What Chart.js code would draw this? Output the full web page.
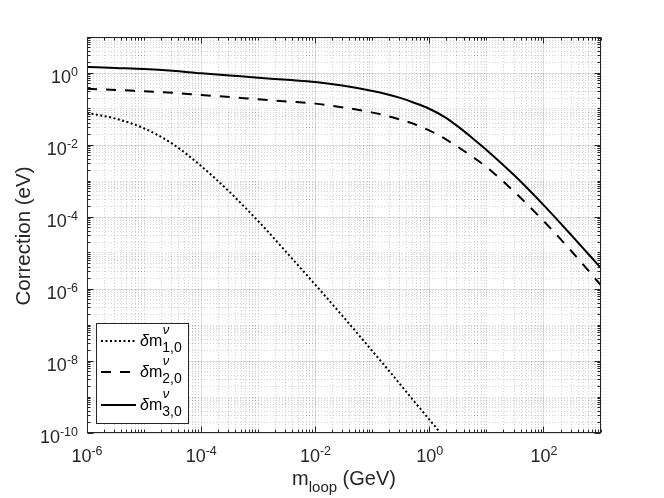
<!DOCTYPE html>
<html>
<head>
<meta charset="utf-8">
<title>Correction vs m_loop</title>
<style>
  html, body { margin: 0; padding: 0; background: #fff; }
  #wrap { width: 664px; height: 498px; }
</style>
</head>
<body>
<div id="wrap"><canvas id="chart" width="664" height="498"></canvas></div>
<script src="https://cdn.jsdelivr.net/npm/chart.js@4.4.1/dist/chart.umd.min.js"></script>
<script>
// m_loop in GeV (half decades, quarter decades around the knee)
const mLoop = [1e-6, 3.16e-6, 1e-5, 3.16e-5, 1e-4, 3.16e-4, 1e-3, 3.16e-3, 1e-2, 3.16e-2,
               0.1, 0.178, 0.316, 0.562, 1, 1.78, 3.16, 5.62, 10, 31.6, 100, 316, 1000];

// corrections in eV
const delta10 = [7.8e-2, 5.4e-2, 2.9e-2, 1.07e-2, 2.6e-3, 4.9e-4, 7.6e-5, 1.02e-5, 1.3e-6, 1.6e-7,
                 1.86e-8, 6.3e-9, 2.1e-9, 6.9e-10, 2.3e-10, 7.6e-11, 2.5e-11, null, null, null, null, null, null];
const delta20 = [0.363, 0.339, 0.309, 0.282, 0.245, 0.214, 0.186, 0.162, 0.141, 0.110,
                 0.0794, 0.0646, 0.0501, 0.0372, 0.0251, 0.0155, 8.7e-3, 4.7e-3, 2.4e-3, 4.7e-4, 7.6e-5, 1.05e-5, 1.26e-6];
const delta30 = [1.479, 1.380, 1.288, 1.148, 0.977, 0.851, 0.741, 0.646, 0.562, 0.442,
                 0.316, 0.257, 0.200, 0.145, 0.100, 0.0617, 0.0324, 0.0155, 7.2e-3, 1.35e-3, 2.1e-4, 2.9e-5, 3.8e-6];

const seriesSub = ["1,0", "2,0", "3,0"];
const xTickExps = [-6, -4, -2, 0, 2];
const yTickExps = [-10, -8, -6, -4, -2, 0];

const FONT = "'Liberation Sans', Arial, Helvetica, sans-serif";
const AXIS_COLOR = "#262626";
const DASHES = [[2, 2.5], [10, 9], []];

const toPoints = (ys) => mLoop.map((m, i) => ({ x: m, y: ys[i] }));

function isDecade(v) {
  const e = Math.round(Math.log10(v));
  return Math.abs(v / Math.pow(10, e) - 1) < 1e-6;
}

function isLabelled(v) {
  return isDecade(v) && Math.round(Math.log10(v)) % 2 === 0;
}

// every 1..9 x 10^n inside the range, like matlab's minor grid
function allLogTicks(scale) {
  const ticks = [];
  const lo = Math.floor(Math.log10(scale.min) + 1e-9);
  const hi = Math.ceil(Math.log10(scale.max) - 1e-9);
  for (let e = lo; e <= hi; e++) {
    for (let m = 1; m < 10; m++) {
      const v = m * Math.pow(10, e);
      if (v >= scale.min * (1 - 1e-9) && v <= scale.max * (1 + 1e-9)) ticks.push({ value: v });
    }
  }
  scale.ticks = ticks;
}

const logAxis = (min, max) => ({
  type: "logarithmic",
  min: min,
  max: max,
  afterBuildTicks: allLogTicks,
  ticks: { display: false },
  grid: {
    drawTicks: false,
    lineWidth: 1,
    color: (c) => (c.tick && isLabelled(c.tick.value)) ? "rgba(38,38,38,0.14)" : "rgba(38,38,38,0.2)",
  },
  border: {
    display: false,
    dash: (c) => (c.tick && isLabelled(c.tick.value)) ? [] : [1, 2],
  },
});

function drawPower(ctx, exp, x, baseline, align) {
  ctx.font = `18px ${FONT}`;
  const bw = ctx.measureText("10").width;
  ctx.font = `12.5px ${FONT}`;
  const sup = String(exp);
  const sw = ctx.measureText(sup).width;
  const start = align === "center" ? x - (bw + sw) / 2 : x - (bw + sw);
  ctx.font = `18px ${FONT}`;
  ctx.fillText("10", start, baseline);
  ctx.font = `12.5px ${FONT}`;
  ctx.fillText(sup, start + bw, baseline - 7);
}

const matlabAxes = {
  id: "matlabAxes",
  afterDatasetsDraw(chart) {
    const { ctx, chartArea: a, scales: { x, y } } = chart;
    const L = Math.floor(a.left) + 0.5, R = Math.floor(a.right) - 0.5;
    const T = Math.floor(a.top) + 0.5, B = Math.floor(a.bottom) - 0.5;
    ctx.save();
    ctx.strokeStyle = AXIS_COLOR;
    ctx.lineWidth = 1;
    ctx.beginPath();
    x.ticks.forEach((t) => {
      const px = Math.floor(x.getPixelForValue(t.value)) + 0.5;
      const len = isLabelled(t.value) ? 6 : 3;
      ctx.moveTo(px, B); ctx.lineTo(px, B - len);
      ctx.moveTo(px, T); ctx.lineTo(px, T + len);
    });
    y.ticks.forEach((t) => {
      const py = Math.floor(y.getPixelForValue(t.value)) + 0.5;
      const len = isLabelled(t.value) ? 6 : 3;
      ctx.moveTo(L, py); ctx.lineTo(L + len, py);
      ctx.moveTo(R, py); ctx.lineTo(R - len, py);
    });
    ctx.stroke();
    ctx.strokeRect(L, T, R - L, B - T);
    ctx.restore();
  },
  afterDraw(chart) {
    const { ctx, chartArea: a, scales: { x, y } } = chart;
    ctx.save();
    ctx.fillStyle = AXIS_COLOR;
    ctx.textAlign = "left";
    ctx.textBaseline = "alphabetic";

    xTickExps.forEach((e) => drawPower(ctx, e, x.getPixelForValue(Math.pow(10, e)), a.bottom + 29, "center"));
    yTickExps.forEach((e) => drawPower(ctx, e, a.left - 9, y.getPixelForValue(Math.pow(10, e)) + 10, "right"));

    // x title: m_loop (GeV)
    const parts = [["m", "20px", 0], ["loop", "15px", 7], [" (GeV)", "20px", 0]];
    let total = 0;
    parts.forEach((p) => { ctx.font = `${p[1]} ${FONT}`; total += ctx.measureText(p[0]).width; });
    let cx = (a.left + a.right) / 2 - total / 2;
    parts.forEach((p) => {
      ctx.font = `${p[1]} ${FONT}`;
      ctx.fillText(p[0], cx, a.bottom + 52 + p[2]);
      cx += ctx.measureText(p[0]).width;
    });

    // y title
    ctx.save();
    ctx.translate(30, (a.top + a.bottom) / 2 + 1);
    ctx.rotate(-Math.PI / 2);
    ctx.textAlign = "center";
    ctx.font = `20.5px ${FONT}`;
    ctx.fillText("Correction (eV)", 0, 0);
    ctx.restore();

    // legend, lower left
    const lx = 96.5, ly = 323.5, lw = 92, lh = 100;
    ctx.fillStyle = "#fff";
    ctx.fillRect(lx, ly, lw, lh);
    ctx.strokeStyle = AXIS_COLOR;
    ctx.lineWidth = 1;
    ctx.strokeRect(lx, ly, lw, lh);
    const rows = [341, 372, 405];
    chart.data.datasets.forEach((ds, i) => {
      const ry = rows[i];
      ctx.save();
      ctx.strokeStyle = "#000";
      ctx.lineWidth = 2;
      ctx.setLineDash(ds.borderDash);
      ctx.beginPath();
      ctx.moveTo(101, ry);
      ctx.lineTo(136, ry);
      ctx.stroke();
      ctx.restore();

      ctx.fillStyle = "#000";
      let tx = 140;
      ctx.font = `italic 16px ${FONT}`;
      ctx.fillText("δ", tx, ry + 5);
      tx += ctx.measureText("δ").width;
      ctx.font = `16px ${FONT}`;
      ctx.fillText("m", tx, ry + 5);
      tx += ctx.measureText("m").width;
      ctx.font = `italic 13px ${FONT}`;
      ctx.fillText("ν", tx + 0.5, ry - 7);
      ctx.font = `14px ${FONT}`;
      ctx.fillText(seriesSub[i], tx, ry + 11);
    });
    ctx.restore();
  },
};

const lineSet = (label, ys, dash) => ({
  label: label,
  data: toPoints(ys),
  borderColor: "#000",
  borderWidth: 2,
  borderDash: dash,
  pointRadius: 0,
  fill: false,
  cubicInterpolationMode: "monotone",
  spanGaps: false,
});

new Chart(document.getElementById("chart").getContext("2d"), {
  type: "line",
  data: {
    datasets: [
      lineSet("δm_{1,0}", delta10, DASHES[0]),
      lineSet("δm_{2,0}", delta20, DASHES[1]),
      lineSet("δm_{3,0}", delta30, DASHES[2]),
    ],
  },
  options: {
    responsive: false,
    animation: false,
    layout: { padding: { left: 87, top: 37, right: 63, bottom: 65 } },
    scales: {
      x: logAxis(1e-6, 1e3),
      y: logAxis(1e-10, 1e1),
    },
    plugins: {
      legend: { display: false },
      tooltip: { enabled: false },
    },
  },
  plugins: [matlabAxes],
});
</script>
</body>
</html>
